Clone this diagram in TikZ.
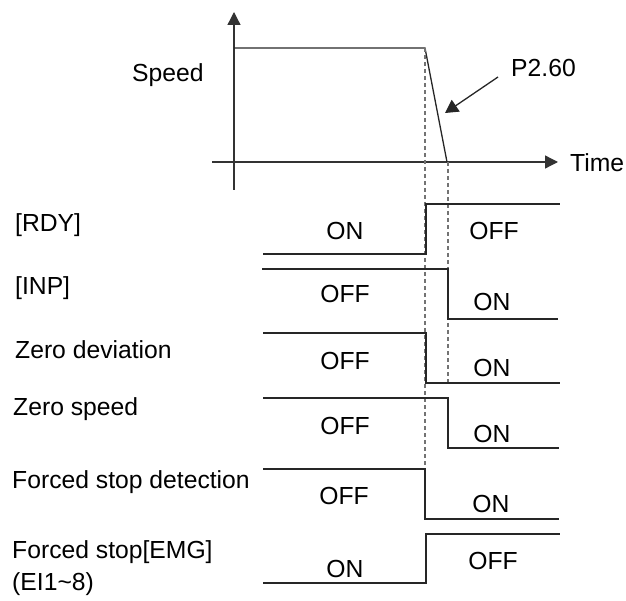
\documentclass[tikz,border=0pt]{standalone}
\usepackage{fontspec}
\setmainfont{Liberation Sans}
\usetikzlibrary{arrows.meta}
\begin{document}
\begin{tikzpicture}[x=1pt,y=-1pt,
  sig/.style={draw=black!85,line width=1.3pt},
  guide/.style={draw=black!55,line width=1.2pt,dash pattern=on 4pt off 3pt},
  axis/.style={draw=black!80,line width=1.3pt,-{Triangle[length=13pt,width=13pt]}},
  lbl/.style={anchor=base west,inner sep=0pt,font=\fontsize{24.7}{28}\selectfont},
  st/.style={anchor=base,inner sep=0pt,font=\fontsize{24.7}{28}\selectfont}]
\useasboundingbox (0,0) rectangle (626,601);
% speed graph
\coordinate (ybot) at (234,190);
\coordinate (ytop) at (234,12);
\coordinate (xl) at (212,162);
\coordinate (xr) at (558,162);
\draw[axis] (ybot) -- (ytop);
\draw[axis] (xl) -- (xr);
\coordinate (s0) at (234,48);
\coordinate (s1) at (425,48);
\coordinate (s2) at (447,162);
\draw[sig] (s0) -- (s1) -- (s2);
\node[lbl] (speed) at (132,82) {Speed};
\node[lbl] (time) at (570,172) {Time};
\node[lbl] (p260) at (511,77) {P2.60};
\coordinate (pa) at (498,77);
\coordinate (pb) at (445,113);
\draw[draw=black!85,line width=1.3pt,-{Triangle[length=13pt,width=14pt]}] (pa) -- (pb);
% guides
\coordinate (g1a) at (425,48);
\coordinate (g1b) at (425,469);
\coordinate (g2a) at (448,162);
\coordinate (g2b) at (448,383);
\draw[guide] (g1a) -- (g1b);
\draw[guide] (g2a) -- (g2b);
% RDY
\draw[sig] (263,254) -- (426,254) -- (426,204) -- (560,204);
\node[lbl] (rdy) at (15,232) {[RDY]};
\node[st] (rdyon) at (345,240) {ON};
\node[st] (rdyoff) at (494,240) {OFF};
% INP
\draw[sig] (262,269) -- (448,269) -- (448,319) -- (558,319);
\node[lbl] (inp) at (15,295) {[INP]};
\node[st] (inpoff) at (345,303) {OFF};
\node[st] (inpon) at (492,311) {ON};
% Zero deviation
\draw[sig] (263,333) -- (426,333) -- (426,383) -- (560,383);
\node[lbl] (zd) at (15,358) {Zero deviation};
\node[st] (zdoff) at (345,369) {OFF};
\node[st] (zdon) at (492,376) {ON};
% Zero speed
\draw[sig] (263,398) -- (448,398) -- (448,448) -- (559,448);
\node[lbl] (zs) at (13,415) {Zero speed};
\node[st] (zsoff) at (345,434) {OFF};
\node[st] (zson) at (492,442) {ON};
% Forced stop detection
\draw[sig] (263,469) -- (425,469) -- (425,519) -- (559,519);
\node[lbl] (fsd) at (12,488) {Forced stop detection};
\node[st] (fsdoff) at (344,504) {OFF};
\node[st] (fsdon) at (491,512) {ON};
% EMG
\draw[sig] (263,583) -- (426,583) -- (426,534) -- (560,534);
\node[lbl] (emg) at (12,558) {Forced stop[EMG]};
\node[lbl] (ei) at (12,590) {(EI1\textasciitilde 8)};
\node[st] (emgon) at (345,577) {ON};
\node[st] (emgoff) at (493,569) {OFF};
\end{tikzpicture}
\end{document}
